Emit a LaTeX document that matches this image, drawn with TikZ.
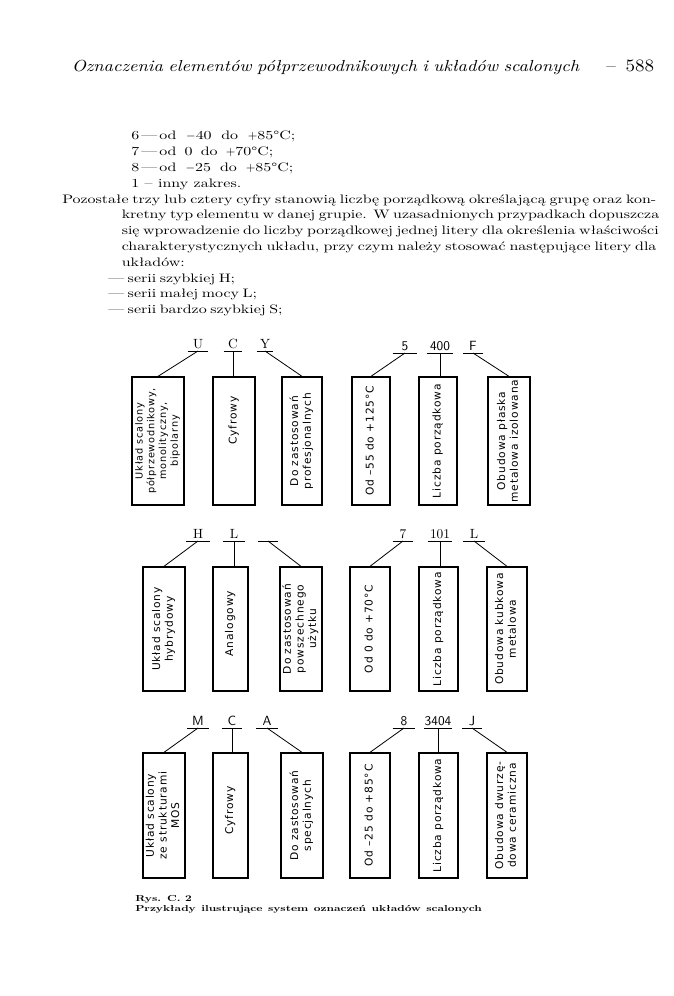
\documentclass[tikz,border=0pt]{standalone}
\usepackage{fontspec}
\newfontfamily\boxfont{DejaVu Sans}[LetterSpace=8]
\newfontfamily\bodyfont{lmroman10-regular.otf}[FakeStretch=1.3, Ligatures=TeX]
\newfontfamily\headfont{lmroman10-italic.otf}[FakeStretch=1.15, Ligatures=TeX]
\newfontfamily\pagefont{lmroman10-regular.otf}[FakeStretch=1.1, Ligatures=TeX]
\newfontfamily\capfont{lmroman10-bold.otf}[FakeStretch=1.35, Ligatures=TeX]
\newcommand\vt[2][0pt]{\rotatebox{90}{\hspace*{#1}\begin{tabular}{@{}c@{}}#2\end{tabular}}}
\begin{document}
\begin{tikzpicture}[x=0.75pt,y=-0.75pt,
  box/.style 2 args={draw, line width=1pt, inner sep=0pt, minimum width=#1*0.75pt, minimum height=#2*0.75pt, font=\boxfont\fontsize{8}{9.5}\selectfont},
  tag/.style={minimum width=#1*0.75pt, minimum height=10pt, inner sep=0pt, anchor=south, font=\fontsize{10}{12}\selectfont,
    append after command={(\tikzlastnode.south west) edge[line width=0.6pt] (\tikzlastnode.south east)}},
  stag/.style={tag=#1, font=\sffamily\fontsize{10}{12}\selectfont},
  conn/.style={line width=0.6pt},
  txt/.style={anchor=base west, inner sep=0pt, font=\bodyfont\fontsize{9.2}{11}\selectfont},
]
\useasboundingbox (0,0) rectangle (674,996);
\fill[white] (0,0) rectangle (674,996);

% header
\node[txt, font=\headfont\fontsize{12}{14}\selectfont] (head) at (71.5,71)
  {\makebox[380.6pt][s]{Oznaczenia elementów półprzewodnikowych i układów scalonych}};
\node[txt, font=\pagefont\fontsize{13}{15}\selectfont] (page) at (606,71) {\makebox[36pt][s]{– 588}};

% body text
\node[txt] (l1) at (131,139.5) {\makebox[123pt][s]{6\,—\,od $-$40 do $+$85°C;}};
\node[txt] (l2) at (131,155.5) {\makebox[106.5pt][s]{7\,—\,od 0 do $+$70°C;}};
\node[txt] (l3) at (131,171.5) {\makebox[121.5pt][s]{8\,—\,od $-$25 do $+$85°C;}};
\node[txt] (l4) at (131,187.5) {\makebox[82.5pt][s]{1 – inny zakres.}};
\node[txt] (l5) at (62,203) {\makebox[445.5pt][s]{Pozostałe trzy lub cztery cyfry stanowią liczbę porządkową określającą grupę oraz kon-}};
\node[txt] (l6) at (121.5,218.5) {\makebox[401pt][s]{kretny typ elementu w danej grupie. W uzasadnionych przypadkach dopuszcza}};
\node[txt] (l7) at (121.5,234.5) {\makebox[401pt][s]{się wprowadzenie do liczby porządkowej jednej litery dla określenia właściwości}};
\node[txt] (l8) at (121.5,250.5) {\makebox[401pt][s]{charakterystycznych układu, przy czym należy stosować następujące litery dla}};
\node[txt] (l9) at (121.5,266.5) {układów:};
\node[txt] (l10) at (108,282) {\makebox[92pt][s]{— serii szybkiej H;}};
\node[txt] (l11) at (108,297.5) {\makebox[104pt][s]{— serii małej mocy L;}};
\node[txt] (l12) at (108,313) {\makebox[121pt][s]{— serii bardzo szybkiej S;}};

% ---------- row 1 ----------
\node[tag=20] (r1u) at (198,351) {U};
\node[tag=18] (r1c) at (233,351) {C};
\node[tag=16] (r1y) at (265,351) {Y};
\node[stag=24] (r1n5) at (405,353) {5};
\node[stag=26] (r1n400) at (440,353) {400};
\node[stag=20] (r1f) at (473,353) {F};

\node[box={52}{128}, font=\boxfont\fontsize{7.3}{8.8}\selectfont] (r1b1) at (158,441)
  {\vt{Układ scalony\\półprzewodnikowy,\\monolityczny,\\bipolarny}};
\node[box={42}{128}] (r1b2) at (234,441) {\vt[31pt]{Cyfrowy}};
\node[box={40}{128}] (r1b3) at (302,441) {\vt{Do zastosowań\\profesjonalnych}};
\node[box={38}{128}] (r1b4) at (371,441) {\vt{Od –55 do +125°C}};
\node[box={38}{128}] (r1b5) at (438,441) {\vt{Liczba porządkowa}};
\node[box={42}{128}] (r1b6) at (509,441) {\vt{Obudowa płaska\\metalowa izolowana}};

\draw[conn] (r1u.south) -- (r1b1.north);
\draw[conn] (r1c.south) -- (r1c.south |- r1b2.north);
\draw[conn] (r1y.south) -- (r1b3.north);
\draw[conn] (r1n5.south) -- (r1b4.north);
\draw[conn] (r1n400.south) -- (r1n400.south |- r1b5.north);
\draw[conn] (r1f.south) -- (r1b6.north);

% ---------- row 2 ----------
\node[tag=23] (r2h) at (198,541) {H};
\node[tag=22] (r2l) at (234,541) {L};
\node[tag=20] (r2e) at (268,541) {};
\node[tag=20] (r2n7) at (403,541) {7};
\node[tag=24] (r2n101) at (440,541) {101};
\node[tag=22] (r2ll) at (474,541) {L};

\node[box={42}{124}] (r2b1) at (164,629) {\vt{Układ scalony\\hybrydowy}};
\node[box={35}{124}] (r2b2) at (230.5,629) {\vt[8pt]{Analogowy}};
\node[box={42}{124}] (r2b3) at (301,629) {\vt{Do zastosowań\\powszechnego\\użytku}};
\node[box={40}{124}] (r2b4) at (370,629) {\vt{Od 0 do +70°C}};
\node[box={39}{124}] (r2b5) at (438.5,629) {\vt{Liczba porządkowa}};
\node[box={40}{124}] (r2b6) at (507,629) {\vt{Obudowa kubkowa\\metalowa}};

\draw[conn] (r2h.south) -- (r2b1.north);
\draw[conn] (r2l.south) -- (r2l.south |- r2b2.north);
\draw[conn] (r2e.south) -- (r2b3.north);
\draw[conn] (r2n7.south) -- (r2b4.north);
\draw[conn] (r2n101.south) -- (r2n101.south |- r2b5.north);
\draw[conn] (r2ll.south) -- (r2b6.north);

% ---------- row 3 ----------
\node[stag=21] (r3m) at (198,728) {M};
\node[stag=20] (r3c) at (232,728) {C};
\node[stag=21] (r3a) at (267,728) {A};
\node[stag=22] (r3n8) at (404,728) {8};
\node[stag=23] (r3n3404) at (438,728) {3404};
\node[stag=19] (r3j) at (472,728) {J};

\node[box={42}{125}] (r3b1) at (164,815.5) {\vt{Układ scalony\\ze strukturami\\MOS}};
\node[box={35}{125}] (r3b2) at (230.5,815.5) {\vt[7.5pt]{Cyfrowy}};
\node[box={42}{125}] (r3b3) at (302,815.5) {\vt{Do zastosowań\\specjalnych}};
\node[box={40}{125}] (r3b4) at (370,815.5) {\vt{Od –25 do +85°C}};
\node[box={39}{125}] (r3b5) at (438.5,815.5) {\vt{Liczba porządkowa}};
\node[box={40}{125}] (r3b6) at (507,815.5) {\vt{Obudowa dwurzę-\\dowa ceramiczna}};

\draw[conn] (r3m.south) -- (r3b1.north);
\draw[conn] (r3c.south) -- (r3c.south |- r3b2.north);
\draw[conn] (r3a.south) -- (r3b3.north);
\draw[conn] (r3n8.south) -- (r3b4.north);
\draw[conn] (r3n3404.south) -- (r3n3404.south |- r3b5.north);
\draw[conn] (r3j.south) -- (r3b6.north);

% caption
\node[txt, font=\capfont\fontsize{6.5}{7.5}\selectfont] (cap1) at (135,901) {Rys. C. 2};
\node[txt, font=\capfont\fontsize{6.5}{7.5}\selectfont] (cap2) at (135,911)
  {\makebox[260pt][s]{Przykłady ilustrujące system oznaczeń układów scalonych}};
\end{tikzpicture}
\end{document}
